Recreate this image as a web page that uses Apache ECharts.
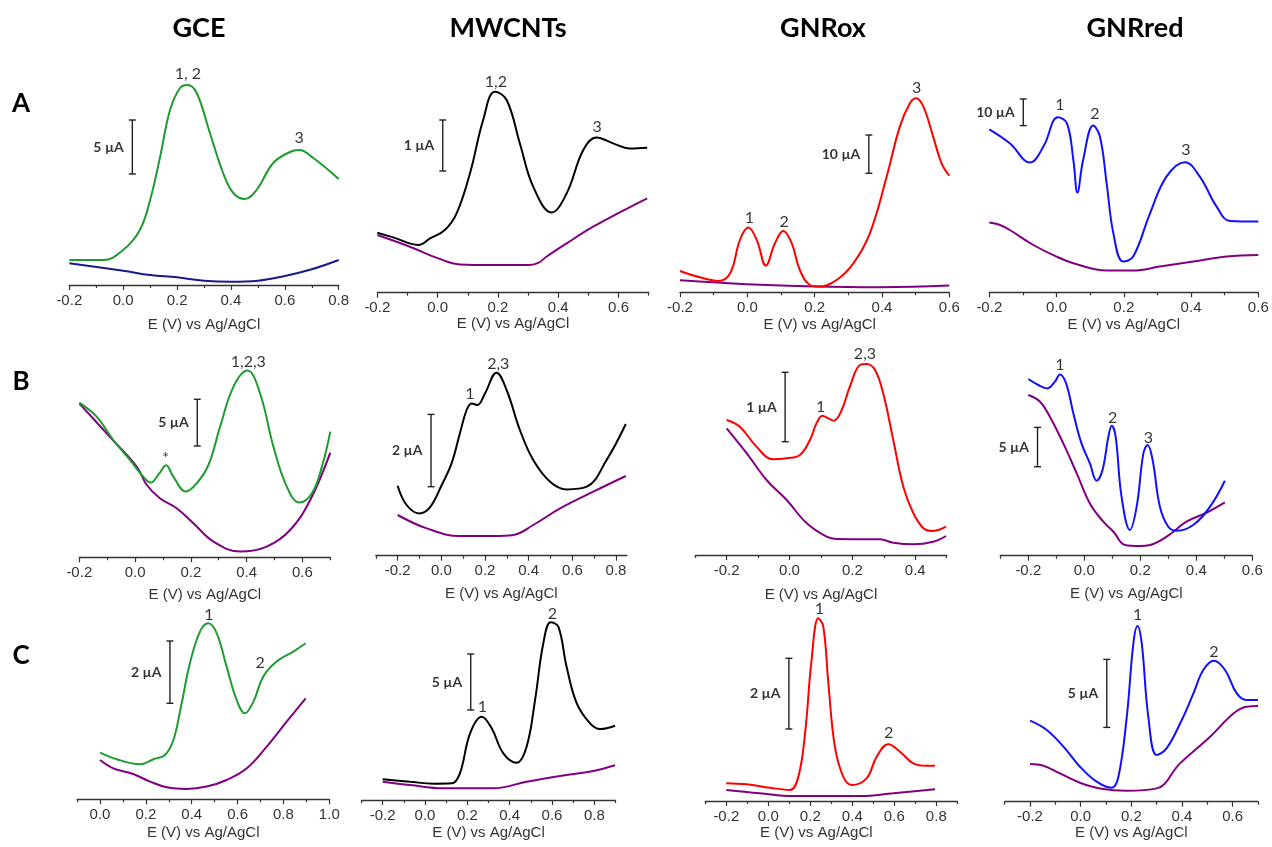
<!DOCTYPE html>
<html lang="en">
<head>
<meta charset="UTF-8">
<title>DPV voltammograms</title>
<style>
  html, body { margin: 0; padding: 0; background: #fff; }
  #chart { width: 1272px; height: 847px; }
</style>
</head>
<body>
<div id="chart"></div>
<script src="https://cdn.jsdelivr.net/npm/echarts@6.0.0/dist/echarts.min.js"></script>
<script>
// curves: [E (V) vs Ag/AgCl, current in arbitrary units]
// suffix 0 = blank (purple / navy) curve
// row A
const gceA = [[-0.2,25],[-0.074,25],[0.0,35],[0.062,55],[0.1,85],[0.137,128],[0.174,175],[0.211,197],[0.239,200],[0.273,192],[0.322,152],[0.371,112],[0.409,92],[0.452,86],[0.495,95],[0.557,122],[0.619,133],[0.653,135],[0.706,127],[0.8,106]];
const gceA0 = [[-0.2,21.7],[0.0,14.3],[0.1,10],[0.2,7.7],[0.3,4.3],[0.4,3.3],[0.5,4.3],[0.6,9],[0.7,15.7],[0.8,25]];
const mwA = [[-0.2,60],[-0.147,55.3],[-0.064,47.7],[-0.025,54.3],[0.024,62.7],[0.063,79.3],[0.107,119],[0.151,172.7],[0.19,201],[0.229,192.7],[0.273,149],[0.317,106],[0.378,80.3],[0.428,99.3],[0.483,142.7],[0.527,155.3],[0.582,149.3],[0.638,144.3],[0.695,145]];
const mwA0 = [[-0.2,57.7],[-0.092,46],[0.002,34.3],[0.074,28.3],[0.185,27.7],[0.306,27.7],[0.335,30],[0.361,36],[0.428,49.3],[0.516,66],[0.695,94.3]];
const oxA = [[-0.2,21.3],[-0.141,15],[-0.086,11.3],[-0.051,19],[-0.022,52.3],[0.003,64.7],[0.028,52.3],[0.055,26.7],[0.082,49],[0.107,61.3],[0.132,49],[0.156,22.3],[0.186,7.3],[0.214,5.7],[0.265,12.3],[0.315,29],[0.364,59],[0.414,115.7],[0.453,165.7],[0.483,189],[0.501,194],[0.523,185.7],[0.552,155.7],[0.577,129],[0.6,116.7]];
const oxA0 = [[-0.2,12],[0.0,8],[0.2,5.7],[0.4,5],[0.6,6.7]];
const rdA = [[-0.2,163],[-0.139,149],[-0.079,129.7],[-0.039,145.7],[0.004,175],[0.031,169],[0.05,132.3],[0.062,99.7],[0.079,132.3],[0.109,166.7],[0.129,155.7],[0.149,109],[0.169,59],[0.198,30.7],[0.228,35.7],[0.278,79],[0.327,115.7],[0.382,130],[0.426,115.7],[0.476,85.7],[0.516,71.3],[0.6,70.7]];
const rdA0 = [[-0.2,69.7],[-0.17,67.5],[-0.139,62.3],[-0.069,47.3],[0.0,35.7],[0.06,28],[0.149,21.7],[0.228,21.7],[0.307,25.7],[0.407,30.7],[0.506,35.7],[0.6,37.3]];
// row B
const gceB = [[-0.2,154.7],[-0.138,140.7],[-0.078,117.3],[-0.018,97.3],[0.024,82.3],[0.056,74.7],[0.087,84],[0.111,92],[0.137,80.7],[0.182,65.7],[0.221,74],[0.263,92.3],[0.305,130.7],[0.353,170.7],[0.403,186.7],[0.448,164],[0.496,110.7],[0.544,70.7],[0.589,54.7],[0.634,64],[0.67,90.7],[0.7,125.7]];
const gceB0 = [[-0.2,154],[-0.078,116.7],[0.006,90.7],[0.042,72.3],[0.089,59],[0.149,49],[0.209,34],[0.281,15.7],[0.377,5.7],[0.472,10.7],[0.556,27.3],[0.628,57.3],[0.7,104.7]];
const mwB = [[-0.2,70],[-0.159,50.7],[-0.101,42.3],[-0.052,48.3],[0.002,70.7],[0.047,92.3],[0.085,122.3],[0.116,145.7],[0.139,152.3],[0.165,150.7],[0.2,162.3],[0.253,183],[0.299,165.7],[0.36,125.7],[0.421,95.7],[0.498,74],[0.574,66.3],[0.666,69],[0.757,95.7],[0.845,131.7]];
const mwB0 = [[-0.2,40.7],[-0.067,27.3],[0.085,19.7],[0.238,19.7],[0.33,20.7],[0.421,30.7],[0.544,47.3],[0.696,64],[0.845,79.7]];
const oxB = [[-0.2,135],[-0.158,128.3],[-0.105,108.3],[-0.052,95.7],[-0.009,96.7],[0.033,100],[0.065,115],[0.086,131.7],[0.105,139.3],[0.123,136.7],[0.141,134.3],[0.166,145],[0.192,168.3],[0.224,190],[0.245,191],[0.272,185],[0.298,161.7],[0.33,115],[0.362,68.3],[0.394,41.7],[0.426,26.7],[0.452,24],[0.473,25],[0.498,28.3]];
const oxB0 = [[-0.2,126.7],[-0.136,101.7],[-0.073,75],[-0.009,55],[0.055,31.7],[0.118,18.3],[0.15,16],[0.288,15.7],[0.33,12.3],[0.394,10.7],[0.457,13.3],[0.498,19]];
const rdB = [[-0.2,176.7],[-0.164,170.7],[-0.132,167.3],[-0.105,174],[-0.087,181.3],[-0.065,172.3],[-0.039,142.3],[-0.01,112.3],[0.02,92.3],[0.044,75],[0.065,85.7],[0.086,119],[0.098,130],[0.112,119],[0.133,59],[0.163,25.7],[0.187,49],[0.211,102.3],[0.226,110.7],[0.244,95.7],[0.27,49],[0.3,29],[0.33,25],[0.389,30.7],[0.449,49],[0.502,75]];
const rdB0 = [[-0.2,160.7],[-0.158,154],[-0.123,139],[-0.075,112.3],[-0.027,82.3],[0.02,52.3],[0.068,34],[0.104,24],[0.145,10.7],[0.199,9.7],[0.235,10.7],[0.294,19],[0.365,34],[0.437,43],[0.502,53.3]];
// row C
const gceC = [[0.0,46.7],[0.073,40],[0.174,35],[0.233,40],[0.283,44.3],[0.32,59.3],[0.356,96],[0.392,136],[0.436,167.7],[0.472,176],[0.509,166],[0.552,132.7],[0.596,99.3],[0.632,86],[0.669,97.7],[0.712,122.7],[0.77,137.7],[0.843,147.7],[0.897,156]];
const gceC0 = [[0.0,39.3],[0.058,31],[0.145,25.3],[0.218,17.7],[0.291,12],[0.378,10.3],[0.465,12.7],[0.552,19.3],[0.64,31],[0.727,52.7],[0.814,77.7],[0.897,101]];
const mwC = [[-0.2,20.7],[-0.071,18.3],[0.039,16.3],[0.126,16.7],[0.165,26.7],[0.213,66.7],[0.268,83.3],[0.315,71.7],[0.37,46.7],[0.433,37.3],[0.48,53.3],[0.52,100],[0.559,156.7],[0.594,177.7],[0.63,173.3],[0.669,133.3],[0.717,96.7],[0.78,76.7],[0.827,71],[0.898,74.3]];
const mwC0 = [[-0.2,18.3],[-0.071,15],[0.087,11.7],[0.323,11.7],[0.48,18.3],[0.638,24],[0.795,29],[0.898,34.7]];
const oxC = [[-0.2,17.7],[-0.103,16.7],[0.008,13.3],[0.103,11],[0.143,24.3],[0.175,67.7],[0.206,141],[0.238,182.7],[0.262,174.3],[0.286,117.7],[0.317,54.3],[0.357,24.3],[0.397,16],[0.468,22.7],[0.516,44.3],[0.571,56.7],[0.627,49.3],[0.69,37.7],[0.754,35.3],[0.794,35.3]];
const oxC0 = [[-0.2,11],[-0.04,7.7],[0.119,5],[0.437,5],[0.595,7.7],[0.794,11.7]];
const rdC = [[-0.2,81],[-0.134,71.7],[-0.068,55],[-0.003,35],[0.063,20],[0.122,14],[0.149,25],[0.182,85],[0.208,158.3],[0.224,175.7],[0.241,158.3],[0.267,85],[0.3,46.7],[0.339,53.3],[0.399,81.7],[0.445,108.3],[0.484,131.7],[0.526,141],[0.57,131.7],[0.616,108.3],[0.655,101.7],[0.7,101.7]];
const rdC0 = [[-0.2,37.7],[-0.147,36],[-0.082,28.3],[-0.003,19],[0.076,13.3],[0.182,11],[0.3,13.3],[0.392,38.3],[0.511,65],[0.603,88.3],[0.655,95],[0.7,95.7]];

// scale bars: [E, low, high, text]
const barGceA = [0.034, 111, 165, '5 µA'];
const barMwA = [0.017, 121.7, 172.7, '1 µA'];
const barOxA = [0.361, 119, 157.3, '10 µA'];
const barRdA = [-0.099, 166.7, 193.3, '10 µA'];
const barGceB = [0.223, 111.3, 158, '5 µA'];
const barMwB = [-0.047, 69, 141.3, '2 µA'];
const barOxB = [-0.014, 113.3, 182.7, '1 µA'];
const barRdB = [-0.167, 89, 128.3, '5 µA'];
const barGceC = [0.305, 96, 158.3, '2 µA'];
const barMwC = [0.216, 90, 146, '5 µA'];
const barOxC = [0.098, 72, 142.7, '2 µA'];
const barRdC = [0.103, 74.3, 142.3, '5 µA'];

// peak labels: [E, height, text]
const pkGceA = [[0.24, 211, '1, 2'], [0.653, 147, '3']];
const pkMwA = [[0.193, 211, '1,2'], [0.529, 166, '3']];
const pkOxA = [[0.006, 74, '1'], [0.109, 70.7, '2'], [0.503, 204, '3']];
const pkRdA = [[0.01, 187.3, '1'], [0.114, 178, '2'], [0.385, 142.3, '3']];
const pkGceB = [[0.11, 99, '*'], [0.406, 195, '1,2,3']];
const pkMwB = [[0.131, 161.7, '1'], [0.261, 192.3, '2,3']];
const pkOxB = [[0.099, 147.7, '1'], [0.24, 200.7, '2,3']];
const pkRdB = [[-0.087, 191.3, '1'], [0.101, 138.3, '2'], [0.229, 118.3, '3']];
const pkGceC = [[0.475, 184.3, '1'], [0.698, 136, '2']];
const pkMwC = [[0.271, 92.7, '1'], [0.602, 186, '2']];
const pkOxC = [[0.243, 191.7, '1'], [0.573, 67.7, '2']];
const pkRdC = [[0.225, 186.7, '1'], [0.526, 150, '2']];

// tick labels
const ticks02to08 = [-0.2, 0.0, 0.2, 0.4, 0.6, 0.8];
const ticks02to06 = [-0.2, 0.0, 0.2, 0.4, 0.6];
const ticks02to04 = [-0.2, 0.0, 0.2, 0.4];
const ticks00to10 = [0.0, 0.2, 0.4, 0.6, 0.8, 1.0];
const minor01to07 = [-0.1, 0.1, 0.3, 0.5, 0.7];
const minor01to05 = [-0.1, 0.1, 0.3, 0.5];
const minor03to07 = [-0.3, -0.1, 0.1, 0.3, 0.5, 0.7];
const minor03to05 = [-0.3, -0.1, 0.1, 0.3, 0.5];
const minor01to09 = [-0.1, 0.1, 0.3, 0.5, 0.7, 0.9];
const minor03to09 = [-0.3, -0.1, 0.1, 0.3, 0.5, 0.7, 0.9];

const electrodes = ['GCE', 'MWCNTs', 'GNRox', 'GNRred'];
const rows = ['A', 'B', 'C'];

const GREEN = '#1E9B30', NAVY = '#1A1A8C', BLACK = '#000000', RED = '#FF0000', BLUE = '#1010FF', PURPLE = '#800080';

const panels = [
  {s: gceA, b: gceA0, bar: barGceA, pk: pkGceA, c: GREEN, bc: NAVY, range: [-0.2, 0.8], major: ticks02to08, minor: minor01to07},
  {s: mwA, b: mwA0, bar: barMwA, pk: pkMwA, c: BLACK, bc: PURPLE, range: [-0.2, 0.7], major: ticks02to06, minor: minor01to07},
  {s: oxA, b: oxA0, bar: barOxA, pk: pkOxA, c: RED, bc: PURPLE, range: [-0.2, 0.6], major: ticks02to06, minor: minor01to05},
  {s: rdA, b: rdA0, bar: barRdA, pk: pkRdA, c: BLUE, bc: PURPLE, range: [-0.2, 0.6], major: ticks02to06, minor: minor01to05},
  {s: gceB, b: gceB0, bar: barGceB, pk: pkGceB, c: GREEN, bc: PURPLE, range: [-0.2, 0.7], major: ticks02to06, minor: minor01to07},
  {s: mwB, b: mwB0, bar: barMwB, pk: pkMwB, c: BLACK, bc: PURPLE, range: [-0.3, 0.85], major: ticks02to08, minor: minor03to07},
  {s: oxB, b: oxB0, bar: barOxB, pk: pkOxB, c: RED, bc: PURPLE, range: [-0.3, 0.5], major: ticks02to04, minor: minor03to05},
  {s: rdB, b: rdB0, bar: barRdB, pk: pkRdB, c: BLUE, bc: PURPLE, range: [-0.3, 0.6], major: ticks02to06, minor: minor03to05},
  {s: gceC, b: gceC0, bar: barGceC, pk: pkGceC, c: GREEN, bc: PURPLE, range: [-0.1, 1.0], major: ticks00to10, minor: minor01to09},
  {s: mwC, b: mwC0, bar: barMwC, pk: pkMwC, c: BLACK, bc: PURPLE, range: [-0.3, 0.9], major: ticks02to08, minor: minor03to09},
  {s: oxC, b: oxC0, bar: barOxC, pk: pkOxC, c: RED, bc: PURPLE, range: [-0.3, 0.9], major: ticks02to08, minor: minor03to09},
  {s: rdC, b: rdC0, bar: barRdC, pk: pkRdC, c: BLUE, bc: PURPLE, range: [-0.3, 0.7], major: ticks02to06, minor: minor03to07}
];

// layout: [left px, right px, axis line y, name gap, name shift]
const layout = [
  [69.3, 338.7, 285, 32, 0], [377.3, 648.7, 292.7, 24, 0], [680, 949.3, 292.3, 25, 5], [989.3, 1258.3, 292.3, 25, 0],
  [79.3, 330.3, 557.3, 30, 0], [375.8, 626.9, 555.7, 31, 0], [695.2, 946.7, 555, 32, 0], [1000.3, 1252.3, 555.7, 31, 0],
  [77.1, 329.3, 799.3, 26, 0], [361.5, 615.5, 800, 25, 0], [705.3, 957.3, 801, 24, -15], [1004.7, 1258, 801.7, 23, 0]
];
const colX = [199, 508, 823, 1135];
const rowY = [104, 382, 656];

const H = 220;
const AXIS_FONT = '"Liberation Sans", Arial, sans-serif';
const CAL_FONT = 'Lato, "Open Sans", sans-serif';

const grids = [], xAxes = [], yAxes = [], series = [];
panels.forEach((p, i) => {
  const [L, R, Y, gap, shift] = layout[i];
  grids.push({left: L, top: Y - H, width: R - L, height: H});
  xAxes.push({
    type: 'value', gridIndex: i, position: 'bottom', min: p.range[0], max: p.range[1],
    name: 'E (V) vs Ag/AgCl', nameLocation: 'middle', nameGap: gap,
    nameTextStyle: {fontFamily: AXIS_FONT, fontSize: 15, color: '#333',
      padding: shift >= 0 ? [0, 0, 0, 2 * shift] : [0, -2 * shift, 0, 0]},
    axisLine: {onZero: false, lineStyle: {color: '#333', width: 1.3}},
    axisTick: {customValues: p.major, length: 5, lineStyle: {color: '#333', width: 1.2}},
    axisLabel: {customValues: p.major, formatter: v => v.toFixed(1), margin: 8,
      fontFamily: AXIS_FONT, fontSize: 15, color: '#333'},
    splitLine: {show: false}
  });
  xAxes.push({
    type: 'value', gridIndex: i, position: 'bottom', min: p.range[0], max: p.range[1],
    axisLine: {show: false},
    axisTick: {customValues: p.minor, length: 3, lineStyle: {color: '#333', width: 1.2}},
    axisLabel: {show: false}, splitLine: {show: false}
  });
  yAxes.push({type: 'value', gridIndex: i, min: 0, max: H, show: false});

  const ax = {xAxisIndex: 2 * i, yAxisIndex: i, silent: true};
  series.push(Object.assign({type: 'line', data: p.b, smooth: 0.4, showSymbol: false,
    lineStyle: {color: p.bc, width: 2}}, ax));
  series.push(Object.assign({type: 'line', data: p.s, smooth: 0.4, showSymbol: false,
    lineStyle: {color: p.c, width: 2}}, ax));
  // scale bar
  series.push(Object.assign({type: 'line', data: [[p.bar[0], p.bar[1]], [p.bar[0], p.bar[2]]],
    symbol: 'rect', symbolSize: [7, 1.4], showSymbol: true,
    lineStyle: {color: '#222', width: 1.4}, itemStyle: {color: '#222'}}, ax));
  series.push(Object.assign({type: 'scatter', symbolSize: 1, itemStyle: {color: 'transparent'},
    data: [[p.bar[0], (p.bar[1] + p.bar[2]) / 2]],
    label: {show: true, position: 'left', distance: 8, formatter: p.bar[3],
      fontFamily: CAL_FONT, fontWeight: 'bold', fontSize: 14, color: '#000'}}, ax));
  // peak numbers
  series.push(Object.assign({type: 'scatter', symbolSize: 1, itemStyle: {color: 'transparent'},
    data: p.pk.map(q => ({value: [q[0], q[1]], name: q[2]})),
    label: {show: true, position: 'inside', formatter: '{b}', textBorderWidth: 0,
      fontFamily: CAL_FONT, fontSize: 16, color: '#000'}}, ax));
});

const graphic = [];
electrodes.forEach((t, j) => graphic.push({type: 'text', x: colX[j], y: 28,
  style: {text: t, align: 'center', verticalAlign: 'middle', font: 'bold 27px ' + CAL_FONT, fill: '#000'}}));
rows.forEach((t, j) => graphic.push({type: 'text', x: 21, y: rowY[j],
  style: {text: t, align: 'center', verticalAlign: 'middle', font: 'bold 26px ' + CAL_FONT, fill: '#000'}}));

const chart = echarts.init(document.getElementById('chart'));
chart.setOption({
  animation: false,
  backgroundColor: '#fff',
  grid: grids, xAxis: xAxes, yAxis: yAxes, series: series, graphic: graphic
});
</script>
</body>
</html>
